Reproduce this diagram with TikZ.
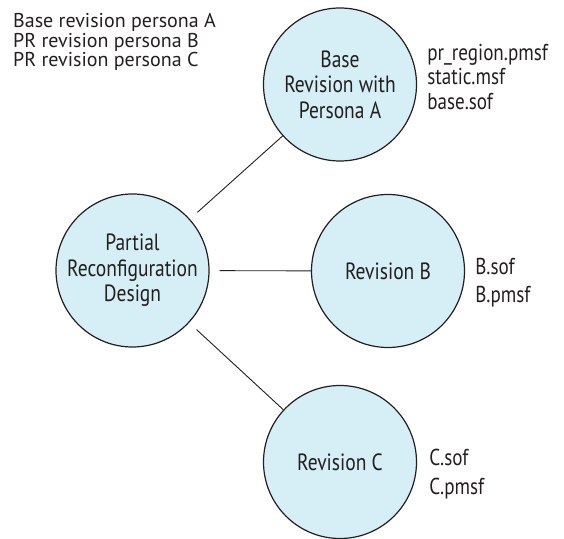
\documentclass[tikz,border=0pt]{standalone}
\usepackage{fontspec}
\setmainfont{PT Sans}
\newfontfamily\condfont[FakeStretch=0.83]{PT Sans}
\usetikzlibrary{positioning}

\definecolor{revfill}{HTML}{D6EEF6}
\definecolor{revline}{HTML}{231F20}

\begin{document}
\begin{tikzpicture}[
  x=1pt, y=1pt,
  every node/.style={text=revline},
  rev/.style={circle, draw=revline, line width=1.2pt, fill=revfill, minimum size=153pt,
    inner sep=0pt, align=center, font=\condfont\fontsize{23.5}{25.5}\selectfont},
  files/.style={inner sep=0pt, align=left, font=\condfont\fontsize{23}{24.5}\selectfont},
  conn/.style={draw=revline, line width=0.9pt, shorten <=10pt}
]
  \useasboundingbox (0,0) rectangle (564,538);
  % legend
  \node[anchor=west, inner sep=0pt, align=left, font=\fontsize{20}{19.8}\selectfont] (Legend) at (13,496)
    {Base revision persona A\\PR revision persona B\\PR revision persona C};
  % revisions
  \node[rev] (PR) at (132.5,267.5) {Partial\\Reconfiguration\\Design};
  \node[rev] (Base) at (340,453.5) {Base\\Revision with\\Persona A};
  \node[rev] (RevB) at (388,267) {Revision B};
  \node[rev] (RevC) at (340,76) {Revision C};
  % output files
  \node[files, right=10pt of Base, yshift=7.5pt] (BaseFiles) {pr\_region.pmsf\\static.msf\\base.sof};
  \node[files, right=10pt of RevB, yshift=-11.5pt, font=\condfont\fontsize{23}{28.5}\selectfont] (BFiles) {B.sof\\B.pmsf};
  \node[files, right=12pt of RevC, yshift=-12.5pt, font=\condfont\fontsize{23}{29}\selectfont] (CFiles) {C.sof\\C.pmsf};
  \draw[conn] (PR) -- (Base);
  \draw[conn] (PR) -- (RevB);
  \draw[conn] (PR) -- (RevC);
\end{tikzpicture}
\end{document}
